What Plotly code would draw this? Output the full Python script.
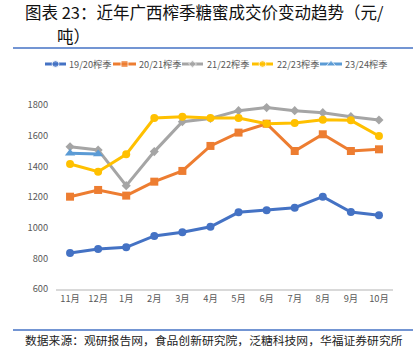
import plotly.graph_objects as go

months = ["11月", "12月", "1月", "2月", "3月", "4月", "5月", "6月", "7月", "8月", "9月", "10月"]
series_names = ["19/20榨季", "20/21榨季", "21/22榨季", "22/23榨季", "23/24榨季"]
s1920 = [835, 861, 872, 946, 970, 1006, 1100, 1113, 1130, 1202, 1102, 1081]
s2021 = [1202, 1246, 1209, 1300, 1370, 1533, 1620, 1678, 1500, 1609, 1500, 1511]
s2122 = [1528, 1507, 1274, 1496, 1691, 1712, 1763, 1783, 1763, 1750, 1724, 1702]
s2223 = [1415, 1365, 1478, 1715, 1724, 1716, 1715, 1678, 1683, 1704, 1700, 1598]
s2324 = [1485, 1480]
y_ticks = [600, 800, 1000, 1200, 1400, 1600, 1800]

values = [s1920, s2021, s2122, s2223, s2324]
colors = ["#4472C4", "#ED7D31", "#A5A5A5", "#FFC000", "#5B9BD5"]
symbols = ["circle", "square", "diamond", "circle", "triangle-up"]
msizes = [8, 8, 7, 8, 9]

W, H = 418, 362
ML, MR, MT, MB = 10, 5, 40, 73
FONT = "Noto Sans CJK SC"


def px(x):
    return (x - ML) / (W - ML - MR)


def py(y):
    return (H - MB - y) / (H - MT - MB)


fig = go.Figure()
for name, vals, c, s, m in zip(series_names, values, colors, symbols, msizes):
    fig.add_trace(go.Scatter(
        x=months[:len(vals)], y=vals, name=name, mode="lines+markers",
        line=dict(color=c, width=3), marker=dict(color=c, symbol=s, size=m),
        xaxis="x", yaxis="y", showlegend=False, cliponaxis=False))

# custom compact legend, like the original
leg_lines = [(45, 66), (113, 136), (182, 203), (252, 273), (320, 342)]
leg_text_x = [67, 137, 205, 275, 343]
LY = 64
annotations = []
for (x0, x1), tx, name, c, s, m in zip(leg_lines, leg_text_x, series_names, colors, symbols, msizes):
    fig.add_trace(go.Scatter(
        x=[x0, (x0 + x1) / 2, x1], y=[LY, LY, LY], mode="lines+markers",
        line=dict(color=c, width=3), marker=dict(color=c, symbol=s, size=[0, m - 1, 0]),
        xaxis="x2", yaxis="y2", showlegend=False, hoverinfo="skip"))
    annotations.append(dict(x=tx, y=LY, xref="x2", yref="y2", text=name, showarrow=False,
                            xanchor="left", yanchor="middle", align="left",
                            font=dict(size=9.2, color="#595959", family=FONT)))

# title (two lines, second one indented) and source
annotations.append(dict(x=px(23), y=py(12), xref="paper", yref="paper",
                        text="图表 23：近年广西榨季糖蜜成交价变动趋势（元/", showarrow=False,
                        xanchor="left", yanchor="middle", align="left",
                        font=dict(size=16.5, color="#111111", family=FONT)))
annotations.append(dict(x=px(55), y=py(36), xref="paper", yref="paper",
                        text="吨）", showarrow=False, xanchor="left", yanchor="middle", align="left",
                        font=dict(size=16.5, color="#111111", family=FONT)))
annotations.append(dict(x=px(23), y=py(339), xref="paper", yref="paper",
                        text="数据来源：观研报告网，食品创新研究院，泛糖科技网，华福证券研究所",
                        showarrow=False, xanchor="left", yanchor="middle", align="left",
                        font=dict(size=11.8, color="#222222", family=FONT)))

shapes = [
    dict(type="line", xref="paper", yref="paper", x0=px(13), x1=px(413), y0=py(48), y1=py(48),
         line=dict(color="#4472C4", width=1.5)),
    dict(type="line", xref="paper", yref="paper", x0=px(13), x1=px(413), y0=py(330), y1=py(330),
         line=dict(color="#4472C4", width=1.5)),
]

fig.update_layout(
    width=W, height=H, margin=dict(l=ML, r=MR, t=MT, b=MB),
    paper_bgcolor="white", plot_bgcolor="white",
    font=dict(family=FONT, color="#595959"),
    xaxis=dict(domain=[px(56), px(393)], type="category", categoryarray=months,
               range=[-0.5, len(months) - 0.5], showline=True, linecolor="#D9D9D9",
               linewidth=1.5, showgrid=False, zeroline=False, ticks="",
               tickfont=dict(size=9.3, color="#595959"), anchor="y"),
    yaxis=dict(domain=[py(289), py(105)], range=[600, 1800], tickvals=y_ticks,
               showgrid=False, zeroline=False, showline=False, ticks="outside",
               ticklen=5, tickcolor="rgba(0,0,0,0)",
               tickfont=dict(size=9.3, color="#595959"), anchor="x"),
    xaxis2=dict(domain=[0, 1], range=[ML, W - MR], visible=False, anchor="y2", fixedrange=True),
    yaxis2=dict(domain=[py(76), py(52)], range=[76, 52], visible=False, anchor="x2", fixedrange=True),
    annotations=annotations, shapes=shapes, showlegend=False,
)

fig.write_html("out.html", config={"displayModeBar": False},
               post_script="document.body.style.margin='0px';")
